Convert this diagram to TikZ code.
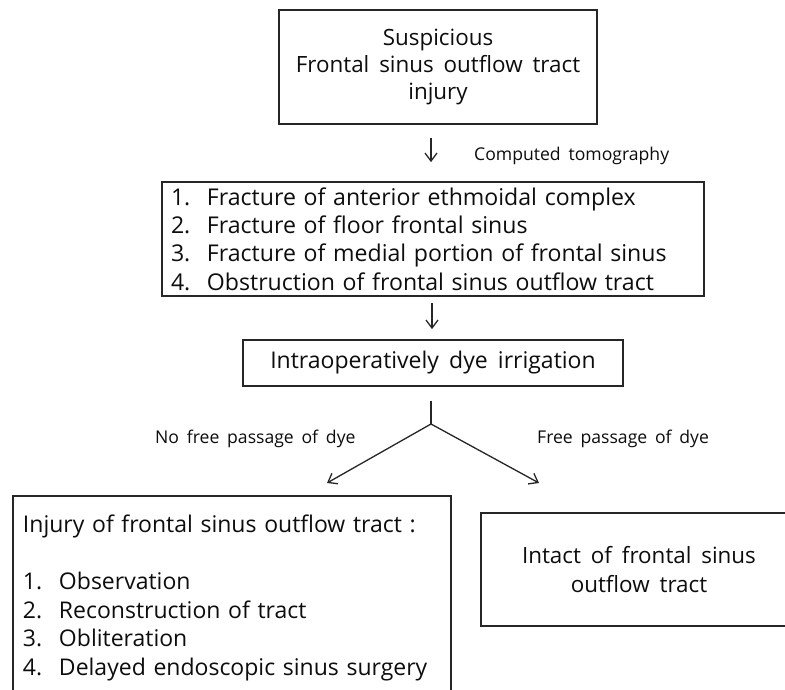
\documentclass[tikz,border=0pt]{standalone}
\usepackage{fontspec}
\setmainfont{Open Sans}[WordSpace=1.7]
\usetikzlibrary{arrows.meta}
\begin{document}
\begin{tikzpicture}[x=1pt,y=-1pt,
  box/.style={draw=black!85, line width=1.7pt, inner sep=0pt, text=black!95},
  arr/.style={draw=black!85, line width=1.3pt, -{Straight Barb[length=8pt,width=12pt,line width=1.3pt]}},
  lnk/.style={draw=black!85, line width=1.3pt},
  lbl/.style={font=\fontsize{17.6}{22}\selectfont, inner sep=0pt, anchor=base west, text=black!95}]
\fill[white] (0,0) rectangle (785,690);
\useasboundingbox (0,0) rectangle (785,690);

\node[box, minimum width=318pt, minimum height=114pt, align=center,
      font=\fontsize{22.4}{27}\selectfont] (b1) at (438,67)
  {Suspicious\\Frontal sinus outflow tract\\injury};

\node[box, minimum width=542pt, minimum height=114pt, text width=524pt, align=left,
      font=\fontsize{23.1}{28.3}\selectfont] (b2) at (433,239)
  {\makebox[36pt][l]{1.}Fracture of anterior ethmoidal complex\\
   \makebox[36pt][l]{2.}Fracture of floor frontal sinus\\
   \makebox[36pt][l]{3.}Fracture of medial portion of frontal sinus\\
   \makebox[36pt][l]{4.}Obstruction of frontal sinus outflow tract};

\node[box, minimum width=380pt, minimum height=46pt,
      font=\fontsize{23}{28}\selectfont] (b3) at (433,363)
  {Intraoperatively dye irrigation};

\node[box, minimum width=438pt, minimum height=204pt, text width=418pt, align=left,
      font=\fontsize{23}{28.5}\selectfont] (b4) at (232,598)
  {Injury of frontal sinus outflow tract :\\[28.5pt]
   \makebox[36pt][l]{1.}Observation\\
   \makebox[36pt][l]{2.}Reconstruction of tract\\
   \makebox[36pt][l]{3.}Obliteration\\
   \makebox[36pt][l]{4.}Delayed endoscopic sinus surgery};

\node[box, minimum width=316pt, minimum height=113pt, align=center,
      font=\fontsize{22.4}{29}\selectfont] (b5) at (639,569.5)
  {Intact of frontal sinus\\outflow tract};

\node[lbl] (ct) at (474,161) {Computed tomography};
\node[lbl] (nf) at (155,443) {No free passage of dye};
\node[lbl] (fp) at (537,443) {Free passage of dye};

\draw[arr] ([xshift=-7pt,yshift=-13pt]b1.south) -- ([xshift=-2pt,yshift=19pt]b2.north);
\draw[arr] ([xshift=-1pt,yshift=-6pt]b2.south) -- ([xshift=-1pt,yshift=10pt]b3.north);

\coordinate (fork) at (431,424);
\coordinate (tipL) at (327,483);
\coordinate (tipR) at (539,483);
\draw[lnk] ([xshift=-2pt,yshift=-14pt]b3.south) -- (fork);
\draw[arr] (fork) -- (tipL);
\draw[arr] (fork) -- (tipR);
\end{tikzpicture}
\end{document}
